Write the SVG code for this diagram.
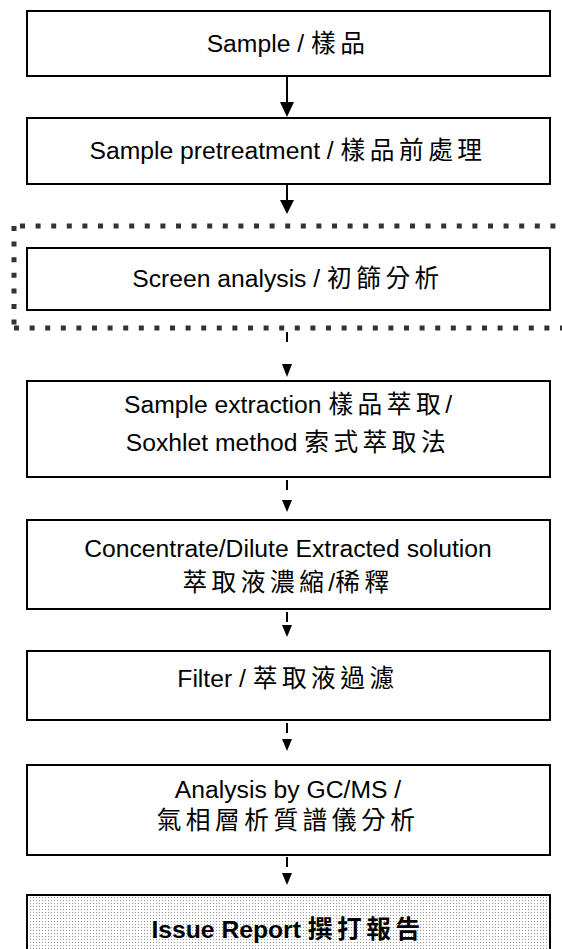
<svg xmlns="http://www.w3.org/2000/svg" width="562" height="949" viewBox="0 0 562 949">
<style>
.box{fill:#fff;stroke:#000;stroke-width:2}
.t{font-family:"Liberation Sans","Noto Sans CJK TC",sans-serif;font-size:24.7px;fill:#000;text-anchor:middle}
.c{letter-spacing:4.5px}
.b{font-weight:bold}
.solid{stroke:#000;stroke-width:2;fill:none}
.dash{stroke:#000;stroke-width:2;fill:none;stroke-dasharray:10 200}
.head{fill:#000}
.frame{stroke:#333;stroke-width:5;fill:none;stroke-dasharray:5 10.6}
</style>
<defs>
<pattern id="dots" width="3" height="3" patternUnits="userSpaceOnUse">
<rect width="3" height="3" fill="#fff"/>
<rect width="1" height="1" fill="#999"/>
</pattern>
</defs>
<g id="connectors">
<line class="solid" x1="287" y1="76" x2="287" y2="104"/>
<polygon class="head" points="280,102 294,102 287,117"/>
<line class="solid" x1="287" y1="184" x2="287" y2="202"/>
<polygon class="head" points="280,200 294,200 287,214"/>
<line class="dash" x1="287" y1="332" x2="287" y2="362"/>
<polygon class="head" points="282,364 292,364 287,377"/>
<line class="dash" x1="287" y1="480" x2="287" y2="500"/>
<polygon class="head" points="282,500 292,500 287,512"/>
<line class="dash" x1="287" y1="612" x2="287" y2="624"/>
<polygon class="head" points="282,625 292,625 287,637"/>
<line class="dash" x1="287" y1="723" x2="287" y2="738"/>
<polygon class="head" points="282,739 292,739 287,751"/>
<line class="dash" x1="287" y1="857" x2="287" y2="872"/>
<polygon class="head" points="282,873 292,873 287,885"/>
</g>
<g id="sample">
<rect class="box" x="27" y="11" width="523" height="65"/>
<text class="t" x="288" y="52">Sample / <tspan class="c">樣品</tspan></text>
</g>
<g id="pretreatment">
<rect class="box" x="27" y="118" width="523" height="66"/>
<text class="t" x="288" y="159">Sample pretreatment / <tspan class="c">樣品前處理</tspan></text>
</g>
<g id="screen">
<line class="frame" x1="20" y1="226" x2="562" y2="226"/>
<line class="frame" x1="14" y1="226" x2="14" y2="330"/>
<line class="frame" x1="14" y1="328" x2="562" y2="328"/>
<rect class="box" x="27" y="248" width="523" height="62"/>
<text class="t" x="288" y="287">Screen analysis / <tspan class="c">初篩分析</tspan></text>
</g>
<g id="extraction">
<rect class="box" x="27" y="381" width="523" height="96"/>
<text class="t" x="288" y="413">Sample extraction  <tspan class="c">樣品萃取</tspan>/</text>
<text class="t" x="288" y="451">Soxhlet method  <tspan class="c">索式萃取法</tspan></text>
</g>
<g id="concentrate">
<rect class="box" x="27" y="520" width="523" height="89"/>
<text class="t" x="288" y="557">Concentrate/Dilute Extracted solution</text>
<text class="t" x="288" y="591"><tspan class="c">萃取液濃縮</tspan>/<tspan class="c">稀釋</tspan></text>
</g>
<g id="filter">
<rect class="box" x="27" y="651" width="523" height="69"/>
<text class="t" x="288" y="687">Filter / <tspan class="c">萃取液過濾</tspan></text>
</g>
<g id="gcms">
<rect class="box" x="27" y="765" width="523" height="90"/>
<text class="t" x="288" y="798">Analysis by GC/MS /</text>
<text class="t" x="288" y="829"><tspan class="c">氣相層析質譜儀分析</tspan></text>
</g>
<g id="report">
<rect class="box" x="27" y="895" width="523" height="70" style="fill:url(#dots)"/>
<text class="t b" x="288" y="938">Issue Report <tspan class="c">撰打報告</tspan></text>
</g>
</svg>
